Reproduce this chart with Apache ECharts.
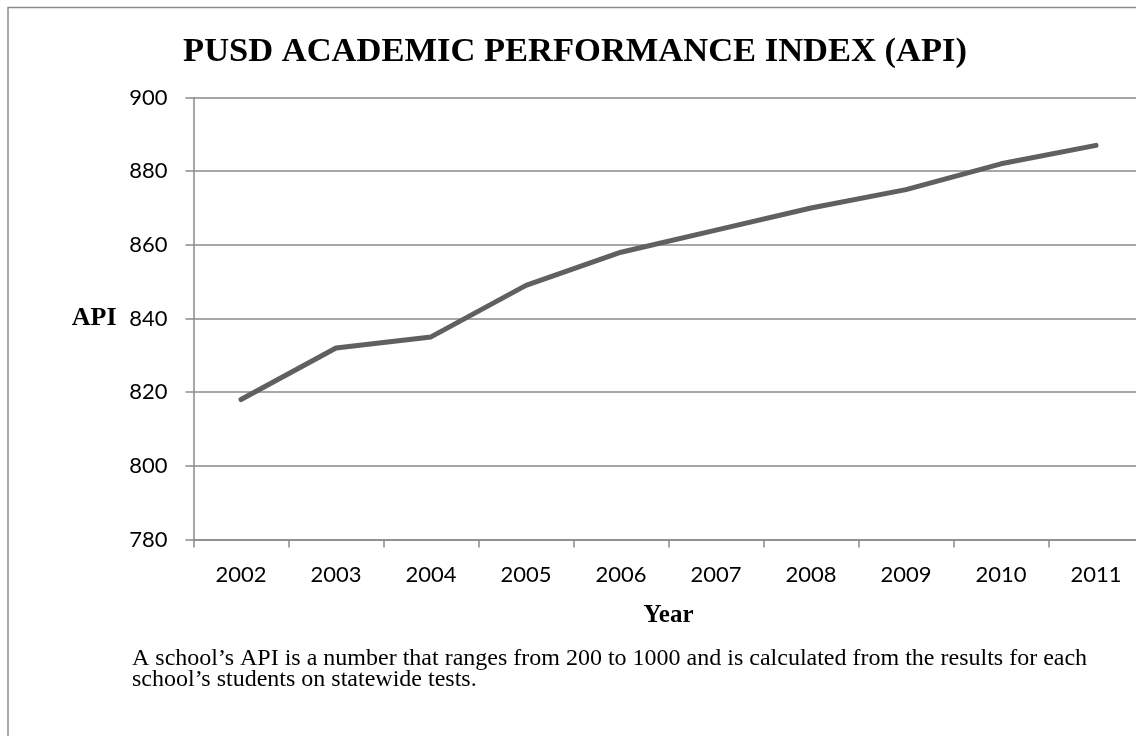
<!DOCTYPE html>
<html>
<head>
<meta charset="utf-8">
<script src="https://cdn.jsdelivr.net/npm/echarts@6/dist/echarts.min.js"></script>
<style>
html,body{margin:0;padding:0;background:#fff;overflow:hidden;}
#c{width:1150px;height:736px;}
</style>
</head>
<body>
<div id="c"></div>
<script>
const titleText = 'PUSD ACADEMIC PERFORMANCE INDEX (API)';
const captionText = 'A school\u2019s API is a number that ranges from 200 to 1000 and is calculated from the results for each\nschool\u2019s students on statewide tests.';
const years = ['2002','2003','2004','2005','2006','2007','2008','2009','2010','2011'];
const apiValues = [818, 832, 835, 849, 858, 864, 870, 875, 882, 887];
const yMin = 780, yMax = 900, yStep = 20;

const chart = echarts.init(document.getElementById('c'), null, {renderer:'canvas'});
const serif = '"Liberation Serif", "Times New Roman", serif';
const sans = 'Lato, "Open Sans", sans-serif';
const gridColor = '#8a8a8a';
chart.setOption({
  animation: false,
  backgroundColor: '#ffffff',
  graphic: [{
    type: 'rect',
    shape: {x: 8, y: 7.5, width: 1300, height: 1000},
    style: {fill: 'none', stroke: '#8c8c8c', lineWidth: 1.5},
    silent: true
  }],
  title: [{
    text: titleText,
    left: 570,
    textAlign: 'center',
    top: 30,
    textStyle: {fontFamily: serif, fontWeight: 'bold', fontSize: 34.5, color: '#000'}
  }, {
    text: captionText,
    left: 127,
    top: 643,
    textStyle: {fontFamily: serif, fontWeight: 'normal', fontSize: 24, lineHeight: 21, color: '#000'}
  }],
  grid: {left: 193.5, top: 97.5, width: 950, height: 442, containLabel: false},
  xAxis: {
    type: 'category',
    data: years,
    boundaryGap: true,
    name: 'Year',
    nameLocation: 'middle',
    nameGap: 64,
    nameTextStyle: {fontFamily: serif, fontWeight: 'bold', fontSize: 25, color: '#000'},
    axisLine: {lineStyle: {color: gridColor, width: 1.5}},
    axisTick: {show: true, length: 8, alignWithLabel: false, lineStyle: {color: gridColor, width: 1.5}},
    axisLabel: {fontFamily: sans, fontSize: 22, color: '#000', margin: 24, interval: 0},
    splitLine: {show: false}
  },
  yAxis: {
    type: 'value',
    min: yMin, max: yMax, interval: yStep,
    name: 'API',
    nameLocation: 'middle',
    nameRotate: 0,
    nameGap: 77,
    nameTextStyle: {fontFamily: serif, fontWeight: 'bold', fontSize: 26, color: '#000', align: 'right', padding: [6, 0, 0, 0]},
    axisLine: {show: true, lineStyle: {color: gridColor, width: 1.5}},
    axisTick: {show: true, length: 8, lineStyle: {color: gridColor, width: 1.5}},
    axisLabel: {fontFamily: sans, fontSize: 22, color: '#000', margin: 26},
    splitLine: {show: true, lineStyle: {color: gridColor, width: 1.5}}
  },
  series: [{
    type: 'line',
    data: apiValues,
    symbol: 'none',
    lineStyle: {color: '#606060', width: 5, cap: 'round', join: 'round'}
  }]
});
</script>
</body>
</html>
